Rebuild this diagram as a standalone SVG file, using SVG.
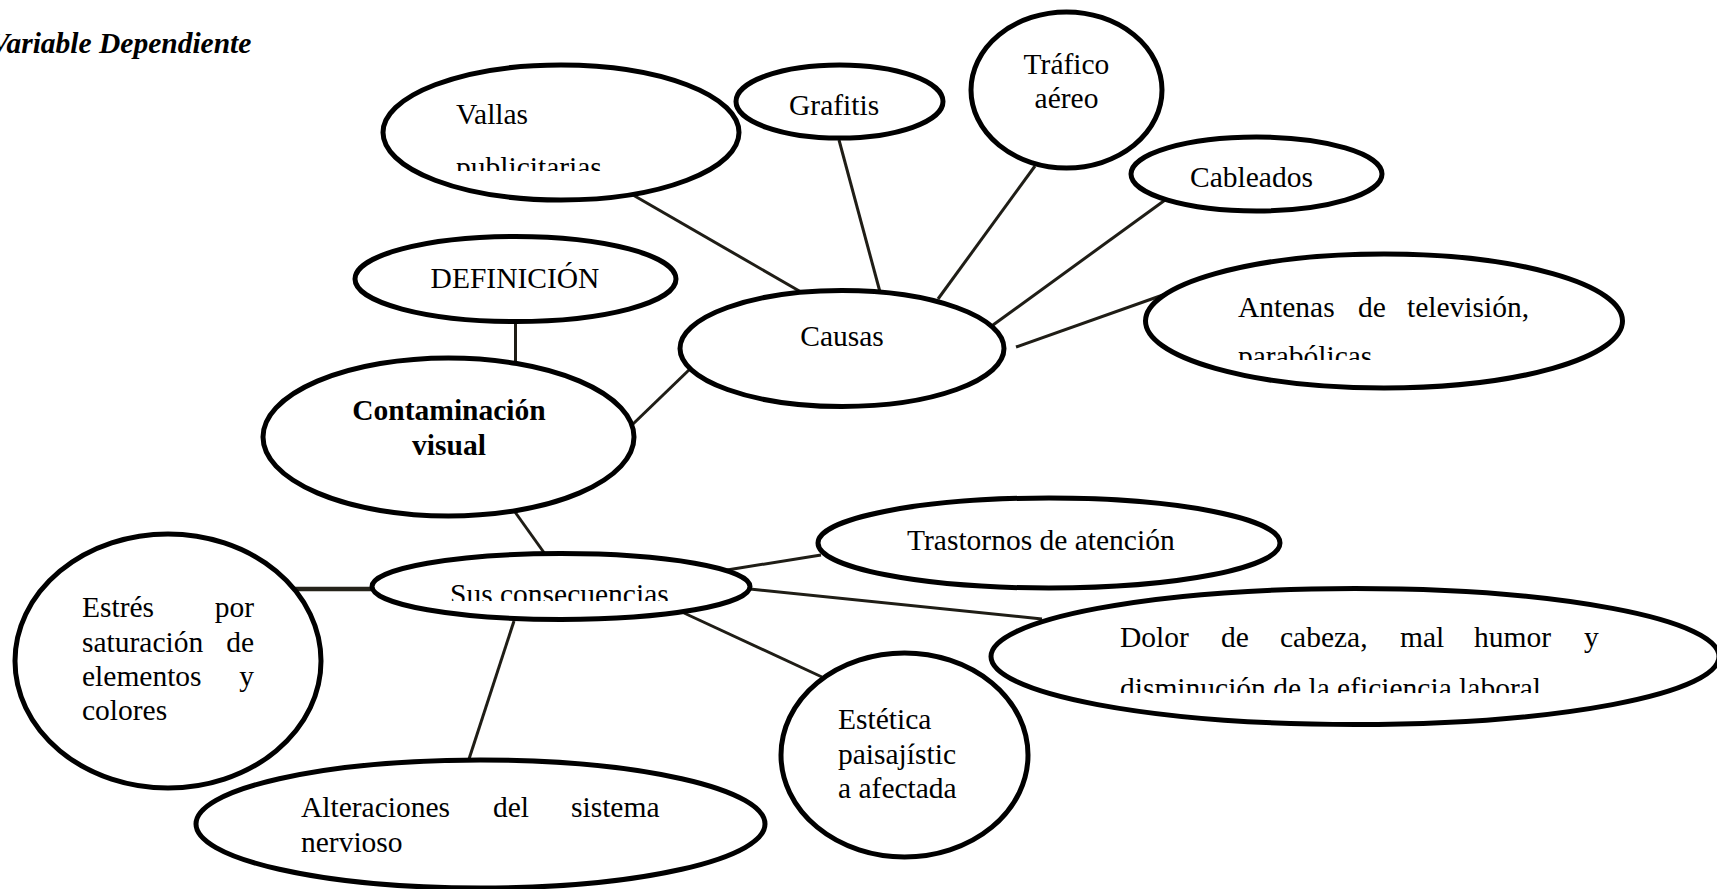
<svg xmlns="http://www.w3.org/2000/svg" width="1717" height="889" viewBox="0 0 1717 889">
<style>
.n{fill:#fff;stroke:#000;stroke-width:5}
.c line{stroke:#1f1d16;stroke-width:3}
text{font-family:"Liberation Serif","Times New Roman",serif;font-size:29.5px;fill:#000}
.b{font-weight:bold}
.t{font-weight:bold;font-style:italic;font-size:29.5px}
</style>
<defs>
<clipPath id="cVal"><rect x="380" y="60" width="360" height="111"/></clipPath>
<clipPath id="cAnt"><rect x="1140" y="250" width="490" height="110"/></clipPath>
<clipPath id="cSus"><rect x="370" y="550" width="385" height="51"/></clipPath>
<clipPath id="cDol"><rect x="990" y="585" width="730" height="108"/></clipPath>
</defs>
<rect width="1717" height="889" fill="#fff"/>
<text class="t" x="-10" y="53">Variable Dependiente</text>
<g class="c" id="connectors">
<line x1="633" y1="195" x2="801" y2="292"/>
<line x1="839" y1="140" x2="880" y2="292"/>
<line x1="1035" y1="166" x2="938" y2="299"/>
<line x1="1172" y1="195" x2="993" y2="325"/>
<line x1="1177" y1="290" x2="1016" y2="347"/>
<line x1="515.5" y1="321" x2="515.5" y2="366"/>
<line x1="633" y1="424" x2="690" y2="369"/>
<line x1="515" y1="512" x2="545" y2="554"/>
<line x1="287" y1="589" x2="376" y2="589" style="stroke-width:4.5;stroke:#25231a"/>
<line x1="727" y1="570" x2="821" y2="555"/>
<line x1="750" y1="589" x2="1042" y2="619"/>
<line x1="684" y1="613" x2="822" y2="677"/>
<line x1="514" y1="621" x2="469" y2="759"/>
</g>
<g id="vallas"><ellipse class="n" cx="561" cy="132.5" rx="178" ry="67.5"/>
<text x="456" y="124">Vallas</text>
<text x="456" y="177" clip-path="url(#cVal)">publicitarias</text></g>
<g id="grafitis"><ellipse class="n" cx="839.5" cy="101.5" rx="103.5" ry="36.5"/>
<text x="789" y="115">Grafitis</text></g>
<g id="trafico"><ellipse class="n" cx="1066.5" cy="90" rx="95.5" ry="78"/>
<text x="1066.5" y="74" text-anchor="middle">Tráfico</text>
<text x="1066.5" y="108" text-anchor="middle">aéreo</text></g>
<g id="cableados"><ellipse class="n" cx="1256.5" cy="174" rx="125.5" ry="37"/>
<text x="1190" y="187">Cableados</text></g>
<g id="antenas"><ellipse class="n" cx="1384" cy="321" rx="238.5" ry="67"/>
<text y="317"><tspan x="1238">Antenas</tspan><tspan x="1358">de</tspan><tspan x="1407">televisión,</tspan></text>
<text x="1238" y="366" clip-path="url(#cAnt)">parabólicas</text></g>
<g id="definicion"><ellipse class="n" cx="515.5" cy="279" rx="160.5" ry="42.5"/>
<text x="515" y="288" text-anchor="middle">DEFINICIÓN</text></g>
<g id="causas"><ellipse class="n" cx="842" cy="348.5" rx="162" ry="58"/>
<text x="842" y="345.5" text-anchor="middle">Causas</text></g>
<g id="contaminacion"><ellipse class="n" cx="448.5" cy="437" rx="185.5" ry="79"/>
<text class="b" x="449" y="420" text-anchor="middle">Contaminación</text>
<text class="b" x="449" y="455" text-anchor="middle">visual</text></g>
<g id="consecuencias"><ellipse class="n" cx="561" cy="586.5" rx="189" ry="33"/>
<text x="450" y="604" clip-path="url(#cSus)">Sus consecuencias</text></g>
<g id="trastornos"><ellipse class="n" cx="1049" cy="543" rx="231" ry="45"/>
<text x="907" y="550">Trastornos de atención</text></g>
<g id="dolor"><ellipse class="n" cx="1355" cy="656.5" rx="364" ry="68"/>
<text y="647"><tspan x="1120">Dolor</tspan><tspan x="1221">de</tspan><tspan x="1280">cabeza,</tspan><tspan x="1400">mal</tspan><tspan x="1474">humor</tspan><tspan x="1584">y</tspan></text>
<text x="1120" y="698" clip-path="url(#cDol)">disminución de la eficiencia laboral</text></g>
<g id="estetica"><ellipse class="n" cx="904.5" cy="755" rx="123.5" ry="102"/>
<text x="838" y="729">Estética</text>
<text x="838" y="763.5">paisajístic</text>
<text x="838" y="798">a afectada</text></g>
<g id="estres"><ellipse class="n" cx="168" cy="661" rx="153" ry="127"/>
<text y="617"><tspan x="82">Estrés</tspan><tspan x="254" text-anchor="end">por</tspan></text>
<text y="652"><tspan x="82">saturación</tspan><tspan x="254" text-anchor="end">de</tspan></text>
<text y="686"><tspan x="82">elementos</tspan><tspan x="254" text-anchor="end">y</tspan></text>
<text x="82" y="720">colores</text></g>
<g id="alteraciones"><ellipse class="n" cx="480.5" cy="824" rx="284.5" ry="64"/>
<text y="817"><tspan x="301">Alteraciones</tspan><tspan x="493">del</tspan><tspan x="571">sistema</tspan></text>
<text x="301" y="852">nervioso</text></g>
</svg>
